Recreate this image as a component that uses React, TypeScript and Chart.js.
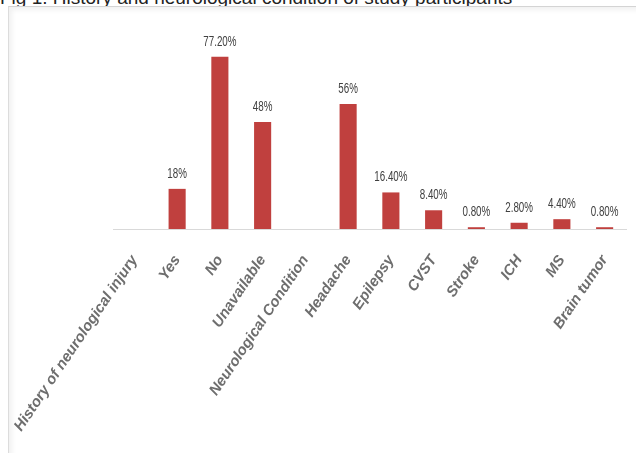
import React, { useEffect, useRef } from "react";
import { Chart, registerables } from "chart.js";

Chart.register(...registerables);

const titleText = "Fig 1. History and neurological condition of study participants";

const categories = [
  "History of neurological injury",
  "Yes",
  "No",
  "Unavailable",
  "Neurological Condition",
  "Headache",
  "Epilepsy",
  "CVST",
  "Stroke",
  "ICH",
  "MS",
  "Brain tumor",
];

const percentages = [null, 18, 77.2, 48, null, 56, 16.4, 8.4, 0.8, 2.8, 4.4, 0.8];

const valueLabels = ["", "18%", "77.20%", "48%", "", "56%", "16.40%", "8.40%", "0.80%", "2.80%", "4.40%", "0.80%"];

const barColor = "#C0403E";

const valueLabelPlugin = {
  id: "valueLabels",
  afterDatasetsDraw(chart: any) {
    const ctx = chart.ctx;
    const meta = chart.getDatasetMeta(0);
    ctx.save();
    ctx.font = "14px 'Liberation Sans', Arial, sans-serif";
    ctx.fillStyle = "#404040";
    ctx.textAlign = "center";
    ctx.textBaseline = "alphabetic";
    meta.data.forEach((bar: any, i: number) => {
      const t = valueLabels[i];
      if (!t || percentages[i] == null) return;
      ctx.save();
      ctx.translate(bar.x, bar.y - 11);
      ctx.scale(0.7, 1);
      ctx.fillText(t, 0, 0);
      ctx.restore();
    });
    ctx.restore();
  },
};

export default function App() {
  const canvasRef = useRef<HTMLCanvasElement | null>(null);

  useEffect(() => {
    if (!canvasRef.current) return;
    const chart = new Chart(canvasRef.current, {
      type: "bar",
      data: {
        labels: categories,
        datasets: [
          {
            data: percentages as any,
            backgroundColor: barColor,
            borderWidth: 0,
            categoryPercentage: 1,
            barPercentage: 0.4,
          },
        ],
      },
      options: {
        responsive: false,
        animation: false,
        layout: { padding: { left: 113, right: 10, top: 6, bottom: 0 } },
        plugins: {
          legend: { display: false },
          tooltip: { enabled: false },
          title: { display: false },
        },
        scales: {
          x: {
            offset: true,
            grid: { display: true, drawOnChartArea: false, drawTicks: false },
            border: { display: true, color: "#d9d9d9", width: 1 },
            ticks: {
              autoSkip: false,
              minRotation: 56,
              maxRotation: 56,
              padding: 23,
              color: "#6e6e6e",
              font: { family: "'Liberation Sans', Arial, sans-serif", size: 15, weight: "bold", style: "italic" },
            },
            afterFit(scale: any) {
              scale.height = 224;
              scale.paddingLeft = 0;
              scale.paddingRight = 0;
            },
          },
          y: {
            display: false,
            min: 0,
            max: 100,
          },
        },
      },
      plugins: [valueLabelPlugin],
    });
    return () => chart.destroy();
  }, []);

  return (
    <div style={{ position: "absolute", left: 0, top: 0, width: 636, height: 453, overflow: "hidden", background: "#fff" }}>
      <div
        style={{
          position: "absolute",
          left: 0,
          top: -12,
          fontFamily: "'Liberation Sans', Arial, sans-serif",
          fontSize: 19,
          lineHeight: "19px",
          color: "#222",
          whiteSpace: "nowrap",
        }}
      >
        {titleText}
      </div>
      <div
        style={{
          position: "absolute",
          left: 8,
          top: 6,
          width: 640,
          height: 460,
          borderTop: "1px solid #d4d4d4",
          borderLeft: "1px solid #dcdcdc",
          boxShadow: "inset 3px 3px 5px rgba(0,0,0,0.06)",
          background: "#fff",
        }}
      />
      <canvas ref={canvasRef} width={636} height={453} style={{ position: "absolute", left: 0, top: 0 }} />
    </div>
  );
}
